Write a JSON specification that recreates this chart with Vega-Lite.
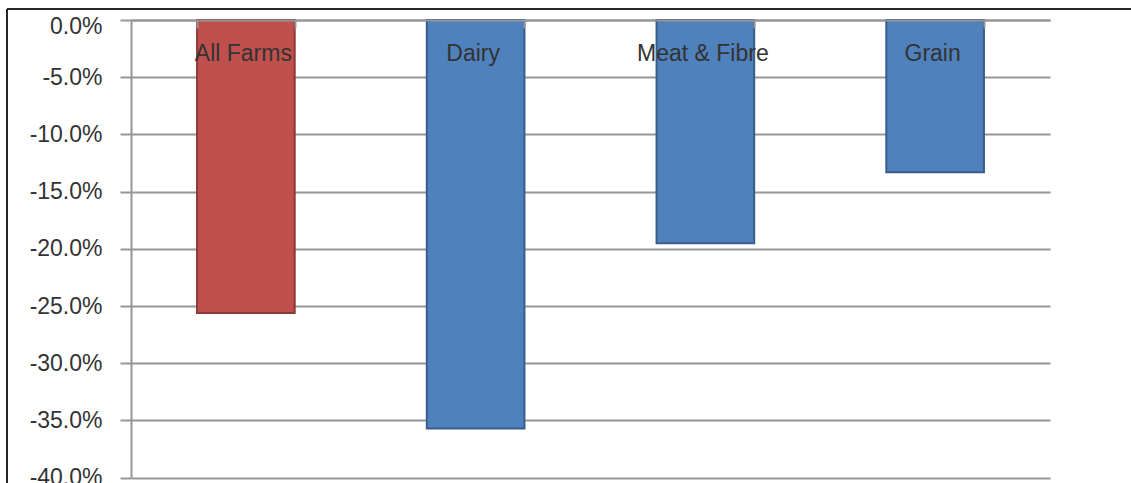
{
  "$schema": "https://vega.github.io/schema/vega-lite/v6.json",
  "width": 1124,
  "height": 474,
  "autosize": {"type": "none"},
  "padding": {"left": 7, "top": 9, "right": 0, "bottom": 0},
  "background": "white",
  "config": {
    "view": {"stroke": "#262626", "strokeWidth": 2, "strokeDash": [1124, 1598, 474, 0]},
    "font": "Liberation Sans",
    "axis": {
      "labelFont": "Liberation Sans",
      "labelFontSize": 23,
      "labelColor": "#333333",
      "domainColor": "#969696",
      "domainWidth": 2,
      "tickColor": "#969696",
      "tickWidth": 2,
      "gridColor": "#969696",
      "gridWidth": 2,
      "title": null
    }
  },
  "data": {
    "values": [
      {"farm_type": "All Farms", "change": -25.6},
      {"farm_type": "Dairy", "change": -35.7},
      {"farm_type": "Meat & Fibre", "change": -19.5},
      {"farm_type": "Grain", "change": -13.3}
    ]
  },
  "mark": {"type": "bar", "strokeWidth": 2},
  "encoding": {
    "x": {
      "field": "farm_type",
      "type": "nominal",
      "sort": null,
      "scale": {"range": [124, 1043], "paddingInner": 0.575, "paddingOuter": 0.2875},
      "axis": {
        "orient": "bottom",
        "offset": -463,
        "tickBand": "extent",
        "tickSize": 8,
        "labelPadding": 14,
        "labelOffset": -3,
        "labelAngle": 0,
        "zindex": 1
      }
    },
    "y": {
      "field": "change",
      "type": "quantitative",
      "scale": {"domain": [-40, 0], "range": [468.7, 11], "nice": false},
      "axis": {
        "values": [0, -5, -10, -15, -20, -25, -30, -35, -40],
        "offset": -124,
        "tickSize": 11,
        "labelPadding": 18,
        "grid": true,
        "labelExpr": "(datum.value < 0 ? '-' : '') + format(abs(datum.value), '.1f') + '%'",
        "labelOffset": {"condition": {"test": "datum.value === 0", "value": 6}, "value": 0}
      }
    },
    "color": {
      "field": "farm_type",
      "type": "nominal",
      "scale": {
        "domain": ["All Farms", "Dairy", "Meat & Fibre", "Grain"],
        "range": ["#C0504D", "#4F81BD", "#4F81BD", "#4F81BD"]
      },
      "legend": null
    },
    "stroke": {
      "field": "farm_type",
      "type": "nominal",
      "scale": {
        "domain": ["All Farms", "Dairy", "Meat & Fibre", "Grain"],
        "range": ["#8C3A38", "#385D8A", "#385D8A", "#385D8A"]
      },
      "legend": null
    }
  }
}
